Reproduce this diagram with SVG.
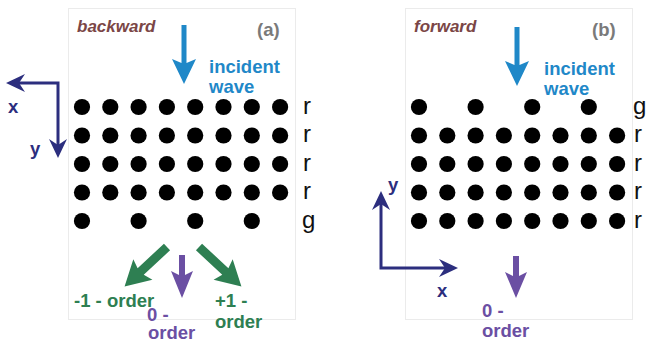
<svg xmlns="http://www.w3.org/2000/svg" width="646" height="343" viewBox="0 0 646 343">
  <style>
    .panel { fill: #ffffff; stroke: #ebebeb; stroke-width: 1; }
    .dot { fill: #000000; }
    .lbl { font-family: "Liberation Sans", Arial, sans-serif; font-size: 24px; fill: #111111; }
    .bold { font-family: "Liberation Sans", Arial, sans-serif; font-weight: bold; font-size: 18.5px; }
    .title { font-family: "Liberation Sans", Arial, sans-serif; font-weight: bold; font-style: italic; font-size: 17px; fill: #7b4646; }
    .tag { font-family: "Liberation Sans", Arial, sans-serif; font-weight: bold; font-size: 18.5px; fill: #7a7a7a; }
    .blue { fill: #1f88c8; }
    .green { fill: #2e7f52; }
    .purple { fill: #6b4fa3; }
    .navy { fill: #2c2e7e; }
    .axis { stroke: #2c2e7e; stroke-width: 3; fill: none; }
  </style>
  <defs>
    <circle id="c" r="8.1" class="dot"/>
    <!-- stealth arrowhead pointing right, tip at origin -->
    <path id="axhead" d="M0,0 L-19,-9 L-13,0 L-19,9 Z" class="navy"/>
  </defs>

  <!-- panel (a): backward -->
  <g id="panel-a">
    <rect class="panel" x="68.5" y="8.5" width="227" height="311"/>
    <text class="title" x="77" y="32">backward</text>
    <text class="tag" x="257" y="36">(a)</text>
  </g>
  <g id="lattice-a">
    <g id="a-row1">
      <use href="#c" x="82" y="107"/><use href="#c" x="110.3" y="107"/><use href="#c" x="138.6" y="107"/><use href="#c" x="166.9" y="107"/>
      <use href="#c" x="195.2" y="107"/><use href="#c" x="223.5" y="107"/><use href="#c" x="251.8" y="107"/><use href="#c" x="280.1" y="107"/>
    </g>
    <use href="#a-row1" y="28.5"/>
    <use href="#a-row1" y="57"/>
    <use href="#a-row1" y="85.5"/>
    <g id="a-row5">
      <use href="#c" x="82" y="221"/><use href="#c" x="138.6" y="221"/><use href="#c" x="195.2" y="221"/><use href="#c" x="251.8" y="221"/>
    </g>
    <text class="lbl" x="303" y="113.5">r</text>
    <text class="lbl" x="303" y="142">r</text>
    <text class="lbl" x="303" y="170.5">r</text>
    <text class="lbl" x="303" y="199">r</text>
    <text class="lbl" x="302" y="227.5">g</text>
  </g>

  <!-- panel (b): forward -->
  <g id="panel-b">
    <rect class="panel" x="405.5" y="8.5" width="227" height="311"/>
    <text class="title" x="414" y="32">forward</text>
    <text class="tag" x="592" y="36">(b)</text>
  </g>
  <g id="lattice-b">
    <g id="b-row1">
      <use href="#c" x="419" y="107"/><use href="#c" x="475.6" y="107"/><use href="#c" x="532.2" y="107"/><use href="#c" x="588.8" y="107"/>
    </g>
    <g id="b-row2">
      <use href="#c" x="419" y="135.5"/><use href="#c" x="447.3" y="135.5"/><use href="#c" x="475.6" y="135.5"/><use href="#c" x="503.9" y="135.5"/>
      <use href="#c" x="532.2" y="135.5"/><use href="#c" x="560.5" y="135.5"/><use href="#c" x="588.8" y="135.5"/><use href="#c" x="617.1" y="135.5"/>
    </g>
    <use href="#b-row2" y="28.5"/>
    <use href="#b-row2" y="57"/>
    <use href="#b-row2" y="85.5"/>
    <text class="lbl" x="633" y="113.5">g</text>
    <text class="lbl" x="634" y="142">r</text>
    <text class="lbl" x="634" y="170.5">r</text>
    <text class="lbl" x="634" y="199">r</text>
    <text class="lbl" x="634" y="227.5">r</text>
  </g>

  <!-- wave arrows, coordinate axes and their labels -->
  <g id="connectors">
    <!-- incident waves -->
    <path class="blue" d="M181.5,25 L186.5,25 L186.5,63 L196,59 L184,84 L172,59 L181.5,63 Z"/>
    <path class="blue" d="M514.5,27 L519.5,27 L519.5,65 L529,61 L517,86 L505,61 L514.5,65 Z"/>

    <!-- diffracted orders in (a) -->
    <path class="green" transform="translate(167,247) rotate(47)" d="M-4.5,0 L4.5,0 L4.5,36 L14,33 L0,58 L-14,33 L-4.5,36 Z"/>
    <path class="green" transform="translate(199,247) rotate(-47)" d="M-4.5,0 L4.5,0 L4.5,36 L14,33 L0,58 L-14,33 L-4.5,36 Z"/>
    <path class="purple" d="M179,255 L185,255 L185,275 L193,271 L182,298 L171,271 L179,275 Z"/>
    <!-- zero order in (b) -->
    <path class="purple" d="M513,256 L519,256 L519,276 L527,272 L516,298 L505,272 L513,276 Z"/>

    <!-- axes (a): x to the left, y downward -->
    <path class="axis" d="M18,83 L58,83 L58,146"/>
    <use href="#axhead" transform="translate(6,83) rotate(180)"/>
    <use href="#axhead" transform="translate(58,158) rotate(90)"/>
    <!-- axes (b): y upward, x to the right -->
    <path class="axis" d="M381,203 L381,268 L446,268"/>
    <use href="#axhead" transform="translate(381,191) rotate(-90)"/>
    <use href="#axhead" transform="translate(458,268)"/>
  </g>

  <g id="labels">
    <text class="bold blue" x="209" y="73">incident</text>
    <text class="bold blue" x="209" y="93">wave</text>
    <text class="bold blue" x="544" y="75">incident</text>
    <text class="bold blue" x="544" y="95">wave</text>

    <text class="bold green" x="74" y="307">-1 - order</text>
    <text class="bold green" x="215" y="307">+1 -</text>
    <text class="bold green" x="215" y="328">order</text>
    <text class="bold purple" x="147" y="321">0 -</text>
    <text class="bold purple" x="148" y="339">order</text>
    <text class="bold purple" x="482" y="317">0 -</text>
    <text class="bold purple" x="482" y="337">order</text>

    <text class="bold navy" x="8" y="113">x</text>
    <text class="bold navy" x="30" y="155">y</text>
    <text class="bold navy" x="388" y="191">y</text>
    <text class="bold navy" x="437" y="297">x</text>
  </g>
</svg>
